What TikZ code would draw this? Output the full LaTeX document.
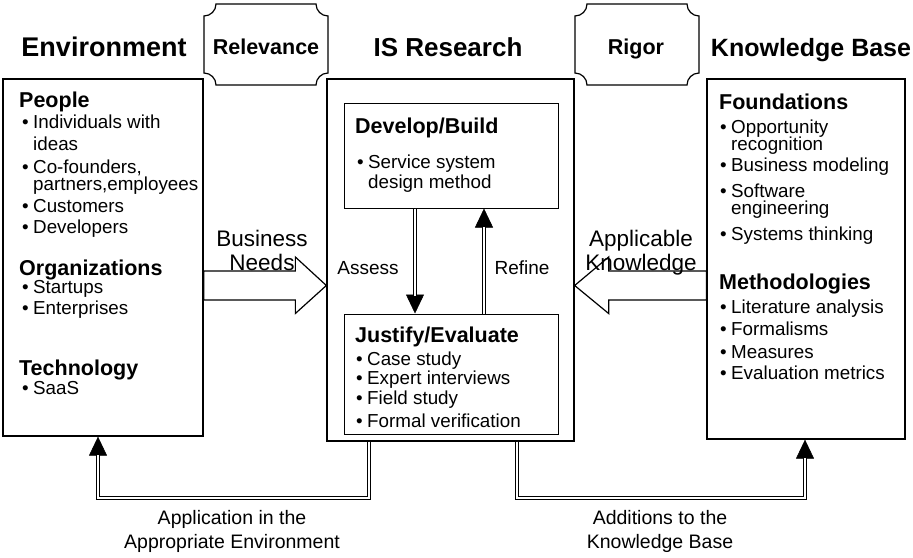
\documentclass[tikz,border=0pt]{standalone}
\usepackage{fontspec}
\setmainfont{Liberation Sans}
\usetikzlibrary{arrows.meta,calc}
\newcommand\bu{\llap{\textbullet\hspace{4.5pt}}}
\begin{document}
\begin{tikzpicture}[x=1pt,y=-1pt,
  box/.style={draw, line width=1.3pt, fill=white, inner sep=0, rectangle},
  ibox/.style={draw, line width=1pt, inner sep=0, rectangle},
  hd/.style={anchor=base west, inner sep=0, font=\fontsize{21.5}{24}\selectfont\bfseries},
  bl/.style={anchor=base west, inner sep=0, font=\fontsize{18.8}{22}\selectfont},
  ttl/.style={anchor=base, inner sep=0, font=\fontsize{26}{30}\selectfont\bfseries},
  plq/.style={anchor=base, inner sep=0, font=\fontsize{21.5}{24}\selectfont\bfseries},
  lbl/.style={anchor=base, inner sep=0, font=\fontsize{22.5}{26}\selectfont},
  slbl/.style={anchor=base, inner sep=0, font=\fontsize{19}{22}\selectfont},
  blbl/.style={anchor=base, inner sep=0, font=\fontsize{19.5}{22}\selectfont},
  plaque/.style={draw, line width=1.2pt, fill=white},
  barrow/.style={draw, line width=1.2pt, fill=white, line join=miter},
  dbl/.style={draw, line width=1pt, double=white, double distance=2.4pt},
  tipl/.style={line width=0.5pt, -{Triangle[width=18pt,length=19pt]}}]
\useasboundingbox (0,0) rectangle (913,557);
\fill[white] (0,0) rectangle (913,557);

% main boxes
\node[box, minimum width=200pt, minimum height=357pt] (env) at (103,257.5) {};
\node[box, minimum width=247pt, minimum height=362pt] (isr) at (450.5,260) {};
\node[box, minimum width=198pt, minimum height=360pt] (kb) at (806,259) {};
\node[ibox, minimum width=214pt, minimum height=105pt] (dev) at (451,155.5) {};
\node[ibox, minimum width=214pt, minimum height=120pt] (jus) at (451,374) {};

% plaques
\draw[plaque] (216,4) -- (316,4) .. controls (316,10.6) and (321.4,16) .. (328,16) -- (328,73) .. controls (321.4,73) and (316,78.4) .. (316,85) -- (216,85) .. controls (216,78.4) and (210.6,73) .. (204,73) -- (204,16) .. controls (210.6,16) and (216,10.6) .. (216,4) -- cycle;
\draw[plaque] (587,4) -- (687,4) .. controls (687,10.6) and (692.4,16) .. (699,16) -- (699,73) .. controls (692.4,73) and (687,78.4) .. (687,85) -- (587,85) .. controls (587,78.4) and (581.6,73) .. (575,73) -- (575,16) .. controls (581.6,16) and (587,10.6) .. (587,4) -- cycle;
\node[plq] (rel) at (266,54) {Relevance};
\node[plq] (rig) at (636,54) {Rigor};

% titles
\node[ttl, font=\fontsize{27}{30}\selectfont\bfseries] (tenv) at (104,56) {Environment};
\node[ttl] (tisr) at (448,56) {IS Research};
\node[ttl, font=\fontsize{25}{30}\selectfont\bfseries] (tkb) at (811,56) {Knowledge Base};

% environment text
\node[hd] (e0) at (19,107) {People};
\node[bl] (e1) at (33,128) {\bu Individuals with};
\node[bl] (e2) at (33,150) {ideas};
\node[bl] (e3) at (33,173) {\bu Co-founders,};
\node[bl] (e4) at (33,190) {partners,employees};
\node[bl] (e5) at (33,212) {\bu Customers};
\node[bl] (e6) at (33,233) {\bu Developers};
\node[hd] (e7) at (19,275) {Organizations};
\node[bl] (e8) at (33,293) {\bu Startups};
\node[bl] (e9) at (33,314) {\bu Enterprises};
\node[hd] (e10) at (19,375) {Technology};
\node[bl] (e11) at (33,394) {\bu SaaS};

% knowledge base text
\node[hd] (k0) at (719,109) {Foundations};
\node[bl] (k1) at (731,133) {\bu Opportunity};
\node[bl] (k2) at (731,150) {recognition};
\node[bl] (k3) at (731,171) {\bu Business modeling};
\node[bl] (k4) at (731,197) {\bu Software};
\node[bl] (k5) at (731,214) {engineering};
\node[bl] (k6) at (731,240) {\bu Systems thinking};
\node[hd] (k7) at (719,289) {Methodologies};
\node[bl] (k8) at (731,313) {\bu Literature analysis};
\node[bl] (k9) at (731,335) {\bu Formalisms};
\node[bl] (k10) at (731,358) {\bu Measures};
\node[bl] (k11) at (731,379) {\bu Evaluation metrics};

% develop / justify text
\node[hd] (d0) at (355,133) {Develop/Build};
\node[bl] (d1) at (368,168) {\bu Service system};
\node[bl] (d2) at (368,188) {design method};
\node[hd] (j0) at (355,342) {Justify/Evaluate};
\node[bl] (j1) at (367,365) {\bu Case study};
\node[bl] (j2) at (367,384) {\bu Expert interviews};
\node[bl] (j3) at (367,404) {\bu Field study};
\node[bl] (j4) at (367,427) {\bu Formal verification};

% block arrows
\coordinate (bn) at (0,285.5);
\draw[barrow] ($(env.east |- bn)+(0,-14.5)$) -- ($(isr.west |- bn)+(-31,-14.5)$) -- ++(0,-14) -- (isr.west |- bn) -- ($(isr.west |- bn)+(-31,28)$) -- ++(0,-13.5) -- ($(env.east |- bn)+(0,14.5)$) -- cycle;
\draw[barrow] ($(kb.west |- bn)+(0,-14.5)$) -- ($(isr.east |- bn)+(34,-14.5)$) -- ++(0,-14) -- (isr.east |- bn) -- ($(isr.east |- bn)+(34,28)$) -- ++(0,-13.5) -- ($(kb.west |- bn)+(0,14.5)$) -- cycle;
\node[lbl] (bn1) at (262,246) {Business};
\node[lbl] (bn2) at (262,270) {Needs};
\node[lbl] (ak1) at (641,246) {Applicable};
\node[lbl] (ak2) at (641,270) {Knowledge};

% assess / refine
\coordinate (xA) at (415,0);
\coordinate (xR) at (484,0);
\draw[tipl] (dev.south -| xA) -- (jus.north -| xA);
\draw[dbl, shorten >=18pt] (dev.south -| xA) -- (jus.north -| xA);
\draw[tipl] (jus.north -| xR) -- (dev.south -| xR);
\draw[dbl, shorten >=18pt] (jus.north -| xR) -- (dev.south -| xR);
\node[slbl] (as) at (368,274) {Assess};
\node[slbl] (rf) at (522,274) {Refine};

% bottom connectors
\coordinate (yB) at (0,498);
\coordinate (xL1) at (369,0);
\coordinate (xL2) at (98,0);
\coordinate (xR1) at (517,0);
\coordinate (xR2) at (805,0);
\draw[tipl] (isr.south -| xL1) -- (xL1 |- yB) -- (xL2 |- yB) -- (env.south -| xL2);
\draw[dbl, shorten >=18pt] (isr.south -| xL1) -- (xL1 |- yB) -- (xL2 |- yB) -- (env.south -| xL2);
\draw[tipl] (isr.south -| xR1) -- (xR1 |- yB) -- (xR2 |- yB) -- (kb.south -| xR2);
\draw[dbl, shorten >=18pt] (isr.south -| xR1) -- (xR1 |- yB) -- (xR2 |- yB) -- (kb.south -| xR2);
\node[blbl] (ap1) at (232,524) {Application in the};
\node[blbl] (ap2) at (232,548) {Appropriate Environment};
\node[blbl] (ad1) at (660,524) {Additions to the};
\node[blbl] (ad2) at (660,548) {Knowledge Base};
\end{tikzpicture}
\end{document}
